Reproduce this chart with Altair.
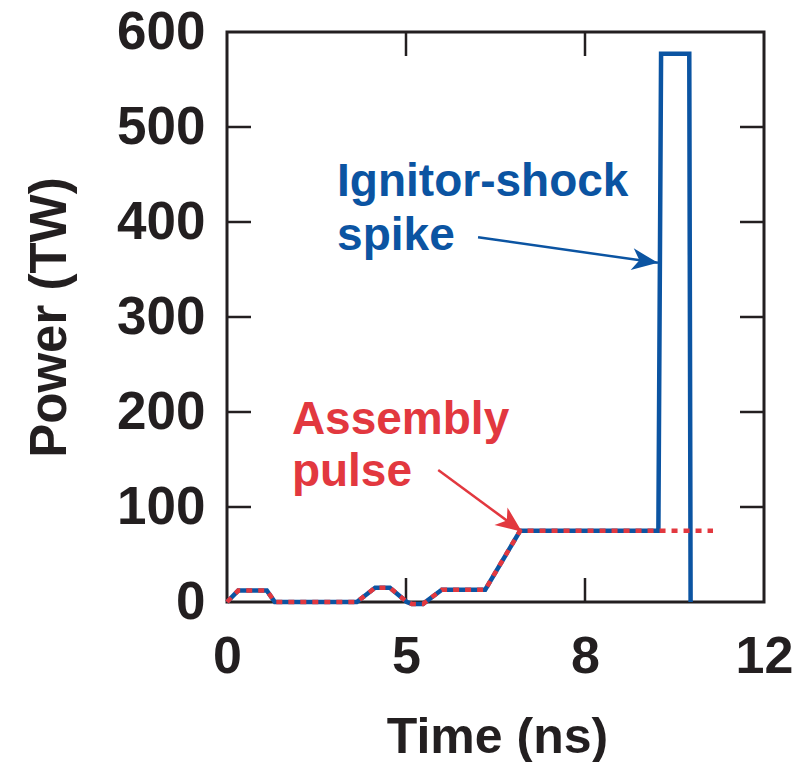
import math
import altair as alt
import pandas as pd

# ---- data ----
assembly_t = [0, 0.25, 0.89, 1.07, 2.9, 3.31, 3.64, 4.02, 4.13, 4.38, 4.8, 5.77, 6.55, 10.86]
assembly_p = [0, 12, 12, 0, 0, 15, 15, 0, -2, -2, 13, 13, 75, 75]

total_t = [0, 0.25, 0.89, 1.07, 2.9, 3.31, 3.64, 4.02, 4.13, 4.38, 4.8, 5.77, 6.55, 9.64, 9.70, 10.33, 10.36]
total_p = [0, 12, 12, 0, 0, 15, 15, 0, -2, -2, 13, 13, 75, 75, 577, 577, 0]

x_tick_values = [0, 4, 8, 12]
x_tick_labels = ["0", "5", "8", "12"]
y_tick_values = [0, 100, 200, 300, 400, 500, 600]

ann_lines = ["Ignitor-shock", "spike", "Assembly", "pulse"]
ann_t = [2.46, 2.46, 1.45, 1.45]
ann_p = [427, 371, 177, 122]
ann_series = ["spike", "spike", "assembly", "assembly"]

arrow_series = ["spike", "assembly"]
arrow_from_t = [5.61, 4.72]
arrow_from_p = [384, 139]
arrow_to_t = [9.63, 6.59]
arrow_to_p = [357, 74]

# ---- styling ----
BLUE = "#0b54a2"
RED = "#e2383f"
INK = "#231f20"
FONT = "Liberation Sans"
colors = {"spike": BLUE, "assembly": RED}
W, H = 537, 570
X_MAX, Y_MAX = 12, 600

label_expr = " : ".join(
    f"datum.value == {v} ? '{l}'" for v, l in zip(x_tick_values, x_tick_labels)
) + " : datum.label"

x_enc = alt.X(
    "t:Q",
    scale=alt.Scale(domain=[0, X_MAX], nice=False, zero=False),
    axis=alt.Axis(
        values=x_tick_values, labelExpr=label_expr, title="Time (ns)",
        ticks=False, tickSize=0, domain=False, grid=False,
        labelPadding=29, labelFontSize=52, labelFont=FONT, labelFontWeight="bold",
        labelColor=INK, labelOverlap=False, labelFlush=False, labelBound=False,
        titleFontSize=50, titleFont=FONT, titleFontWeight="bold", titleColor=INK,
        titleX=270, titleY=150, titleAlign="center", titleBaseline="alphabetic",
    ),
)
y_enc = alt.Y(
    "p:Q",
    scale=alt.Scale(domain=[0, Y_MAX], nice=False, zero=False),
    axis=alt.Axis(
        values=y_tick_values, title="Power (TW)",
        ticks=False, tickSize=0, domain=False, grid=False,
        labelPadding=22, labelFontSize=53, labelFont=FONT, labelFontWeight="bold",
        labelColor=INK, labelOverlap=False, labelFlush=False, labelBound=False,
        labelBaseline="middle",
        titleFontSize=51, titleFont=FONT, titleFontWeight="bold", titleColor=INK,
        titleX=-162, titleY=H / 2, titleAngle=270, titleAlign="center",
        titleBaseline="alphabetic",
    ),
)

df_total = pd.DataFrame({"t": total_t, "p": total_p, "i": range(len(total_t))})
df_asm = pd.DataFrame({"t": assembly_t, "p": assembly_p, "i": range(len(assembly_t))})

blue_line = alt.Chart(df_total).mark_line(
    color=BLUE, strokeWidth=4.5, strokeCap="butt", strokeJoin="miter"
).encode(x=x_enc, y=y_enc, order="i:Q")

red_line = alt.Chart(df_asm).mark_line(
    color=RED, strokeWidth=4.5, strokeDash=[6, 6], strokeCap="butt", strokeJoin="miter"
).encode(x=x_enc, y=y_enc, order="i:Q")

# arrows
px_per_t = W / X_MAX
px_per_p = H / Y_MAX
angles = []
for a, b, c, d in zip(arrow_from_t, arrow_from_p, arrow_to_t, arrow_to_p):
    dx = (c - a) * px_per_t
    dy = -(d - b) * px_per_p
    angles.append(math.degrees(math.atan2(dy, dx)) % 360)

df_arrows = pd.DataFrame({
    "t": arrow_from_t, "p": arrow_from_p, "t2": arrow_to_t, "p2": arrow_to_p,
    "ang": angles, "col": [colors[s] for s in arrow_series],
})
df_heads = pd.DataFrame({"t": arrow_to_t, "p": arrow_to_p, "ang": angles,
                         "col": [colors[s] for s in arrow_series]})

shafts = alt.Chart(df_arrows).mark_rule(strokeWidth=2.5).encode(
    x=x_enc, y=y_enc, x2="t2:Q", y2="p2:Q", color=alt.Color("col:N", scale=None)
)
head_path = "M0,0 L-1,-0.42 L-0.72,0 L-1,0.42 Z"
heads = alt.Chart(df_heads).mark_point(
    shape=head_path, filled=True, size=2704, opacity=1, strokeWidth=0
).encode(
    x=x_enc, y=y_enc, angle=alt.Angle("ang:Q", scale=None),
    color=alt.Color("col:N", scale=None),
)

df_ann = pd.DataFrame({"t": ann_t, "p": ann_p, "txt": ann_lines,
                       "col": [colors[s] for s in ann_series]})
texts = alt.Chart(df_ann).mark_text(
    align="left", baseline="alphabetic", fontSize=46, fontWeight="bold", font=FONT
).encode(x=x_enc, y=y_enc, text="txt:N", color=alt.Color("col:N", scale=None))

# inward tick marks on all four sides
TL = 24
df_yt = pd.DataFrame({"p": y_tick_values[1:-1]})
df_xt = pd.DataFrame({"t": x_tick_values[1:-1]})
tick_style = dict(color=INK, strokeWidth=2.5)
left_ticks = alt.Chart(df_yt).mark_rule(**tick_style).encode(
    y=y_enc, x=alt.value(0), x2=alt.value(TL))
right_ticks = alt.Chart(df_yt).mark_rule(**tick_style).encode(
    y=y_enc, x=alt.value(W - TL), x2=alt.value(W))
bottom_ticks = alt.Chart(df_xt).mark_rule(**tick_style).encode(
    x=x_enc, y=alt.value(H - TL), y2=alt.value(H))
top_ticks = alt.Chart(df_xt).mark_rule(**tick_style).encode(
    x=x_enc, y=alt.value(0), y2=alt.value(TL))

chart = alt.layer(
    left_ticks, right_ticks, bottom_ticks, top_ticks,
    blue_line, red_line, shafts, heads, texts,
).properties(
    width=W, height=H,
    autosize=alt.AutoSizeParams(type="none"),
    padding={"left": 227, "top": 32, "right": 33, "bottom": 160},
    background="white",
).configure_view(
    stroke=INK, strokeWidth=3, fill="white"
)

chart.save("out.html", embed_options={"renderer": "svg", "actions": False})
